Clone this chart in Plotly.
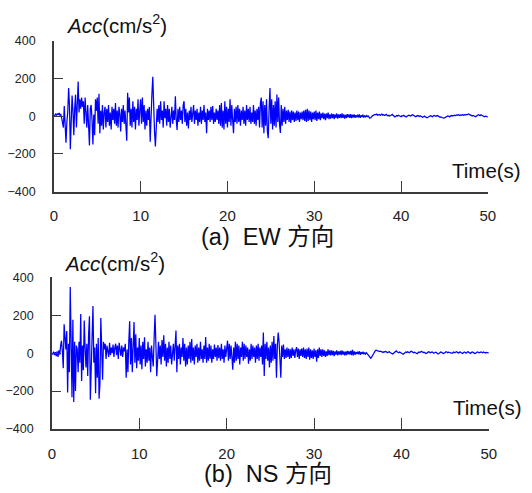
import plotly.graph_objects as go

DT = 0.1  # sampling interval (s)

ew_acc = [
    0, 5, 12, 4, 15, 8, 18, 6, 10, -8,
    -45, -60, 55, -20, -140, -30, 20, 150, 60, -175,
    -40, 110, 30, -100, 40, 115, -60, 80, 185, 20,
    90, 40, 100, 50, 80, -40, 100, 20, -60, 60,
    -30, -155, 40, 60, -20, -150, 10, -100, 90, 30,
    100, -40, 120, -90, 30, -50, 60, -70, 20, 50,
    -60, 40, -30, 60, -50, 20, -70, 50, -20, 40,
    -40, 70, -50, 30, -60, 50, 10, -80, 40, -30,
    60, -40, 30, -90, -130, 125, 20, 100, -50, 40,
    -60, 80, -30, 50, -70, 40, -20, 90, -50, 30,
    90, -40, 100, -30, 60, -70, 30, -50, 40, -20,
    50, -135, 30, 120, 210, -40, -80, -160, -50, 40,
    -30, 60, -40, 80, -20, 30, -60, 80, -10, 40,
    -50, 60, -30, 40, -60, 20, 50, -40, 30, -20,
    107, -20, -73, 40, -30, 50, -20, 30, -40, 60,
    80, -30, 40, -50, 20, -65, 30, -20, 50, -30,
    20, 60, -40, 30, -20, 40, -50, 20, -30, 50,
    -40, 30, -20, 60, -30, 20, -90, 40, -20, 30,
    -30, 50, -20, 55, -40, 20, -30, 40, -20, 30,
    -40, 60, -50, 70, -60, 30, -70, 80, -40, 50,
    -60, 40, -30, 90, -50, 60, -20, -90, 40, -30,
    50, -40, 60, -30, 40, -50, 30, -20, 50, -40,
    30, -50, 60, -20, 40, -30, 50, -40, 20, -30,
    60, -40, 30, -50, 40, -20, 50, -60, 70, 100,
    -60, 80, -90, 60, -50, 90, -80, -116, 40, 150,
    -40, 90, -70, 60, -50, 80, -60, 116, -30, 100,
    -40, -88, 60, -50, 40, -30, 50, -40, 30, -20,
    35, -30, 25, -35, 30, -20, 25, -30, 20, -25,
    30, -20, 25, -30, 20, -15, 25, -20, 30, -25,
    35, -30, 40, -25, 30, -20, 25, -30, 20, -15,
    25, -20, 30, -25, 20, -15, 25, -20, 15, -10,
    20, -15, 15, -20, 15, -10, 20, -15, 10, -12,
    15, -10, 12, -15, 10, -8, 15, -12, 10, -8,
    12, -10, 15, -8, 10, -12, 8, -10, 12, -6,
    10, -8, 12, -10, 8, -6, 10, -8, 6, -5,
    8, -6, 10, -8, 5, -4, 8, -6, 4, -5,
    4, -2, 2, -6, -10, -8, 0, 3, 5, 8,
    10, 8, 12, 6, 8, 10, 5, 8, 12, 6,
    8, 4, 6, 10, 5, 3, 6, 2, 4, 7,
    10, 4, 2, -3, 0, 4, 2, 6, 3, 0,
    -2, 3, 1, 5, 2, -1, -4, 0, 3, 6,
    4, 2, 5, 8, 6, 3, 0, -2, 1, 4,
    2, -1, 3, 0, -3, -5, -2, 1, -3, -6,
    -8, -5, -2, 0, 3, 1, -2, 2, 5, 3,
    0, 2, 4, 1, -2, -5, -3, -6, -8, -10,
    -8, -5, -2, 0, 2, 0, -3, 1, 4, 2,
    5, 3, 6, 4, 7, 5, 8, 6, 4, 7,
    5, 8, 6, 9, 7, 10, 8, 11, 13, 9,
    6, 4, 2, 5, 3, 0, -2, 2, 5, 8,
    6, 3, 8, 5, 2, 0, -2, 1, -1, -3,
    -3,
]

ns_acc = [
    0, -5, 8, -10, 5, -15, 10, -20, 15, -8,
    40, 66, 10, -79, 152, 60, 20, 117, -207, 50,
    -100, 349, 80, -233, 177, -258, 60, -200, 40, 20,
    -100, 60, -50, 207, -147, 40, -90, 173, 30, -75,
    50, -120, 100, 195, -246, -60, 120, 249, -50, 30,
    -212, 50, -130, 80, -240, -160, 186, -40, -140, 60,
    20, 50, -30, 40, 10, -20, 55, -10, 30, 0,
    45, -20, 30, 50, -10, 40, -30, 55, 20, -15,
    40, -20, 30, 10, 50, -130, 20, -100, 60, 169,
    -60, 80, -100, 60, 165, -50, 100, -80, 30, -40,
    80, -60, 40, -85, 60, -30, 84, -70, 20, -50,
    60, -40, 30, -100, 40, -20, -70, 80, 203, 50,
    -122, -40, 60, -30, 40, -60, 70, -20, 95, -40,
    50, -70, 30, -50, 60, -30, 40, -60, 20, 50,
    -40, 60, 120, -100, 40, -30, 50, -60, 30, -20,
    80, -40, 50, -70, 30, -60, 40, -30, 60, -50,
    75, -40, 30, -60, 40, -20, 50, -50, 30, -40,
    60, -30, 20, -50, 40, -30, 85, -50, 30, -40,
    50, -30, 40, -50, 20, -30, 45, -20, 30, -40,
    43, -27, 30, -40, 50, -30, 20, -50, 40, -20,
    30, 66, -40, 50, -30, 40, -20, -87, 30, -50,
    60, -40, 50, -30, 40, -60, 30, -20, 60, -40,
    50, -30, 40, -20, 30, -55, 20, -40, 50, -30,
    40, -20, 30, -50, 40, -30, 50, -40, 30, -20,
    40, -60, 109, -121, 50, -30, 60, -40, 30, -75,
    40, -50, 60, -40, 90, -30, 50, -130, 40, 109,
    60, -60, -130, 40, -20, 45, -30, 20, -25, 30,
    -20, 25, -30, 20, -25, 30, -15, 20, -25, 15,
    32, -20, 25, -30, 20, -15, 25, -20, 30, -25,
    20, -30, 25, -20, 30, -35, 20, -25, 15, -30,
    25, -20, 15, -45, 20, -25, 30, -15, 20, -20,
    20, -15, 15, -20, 10, -15, 20, -10, 15, -12,
    15, -10, 12, -15, 10, -8, 15, -12, 10, -8,
    12, -10, 15, -8, 10, -12, 8, -10, 12, -6,
    10, -8, 12, -10, 18, -12, 10, -8, 6, -5,
    8, -6, 10, -8, 5, -4, 8, -6, 4, -5,
    2, -4, -8, -15, -22, -27, -20, -10, -2, 6,
    12, 16, 14, 10, 12, 8, 11, 9, 6, 4,
    8, 6, 10, 4, 2, 5, 8, 3, 0, -2,
    -4, 0, 6, 10, 12, 8, 4, 2, 6, 3,
    0, -4, -6, -2, 3, 6, 4, 8, 5, 2,
    6, 10, 8, 4, 2, 5, 3, 0, -3, 2,
    6, 4, 8, 10, 6, 3, 5, 2, -2, 0,
    4, 8, 6, 2, 4, 7, 3, 0, 2, 5,
    3, 0, -4, -2, 2, 6, 4, 1, -2, 0,
    4, 8, 6, 2, 5, 3, 0, -3, -1, 3,
    6, 2, 4, 8, 5, 1, 3, 7, 4, 0,
    -2, 2, 6, 4, 0, 3, 8, 5, 2, -1,
    3, 6, 4, 1, -2, 0, 4, 7, 5, 2,
    4, 7, 5, 2, 6, 3, 1, 4, 2, 0,
    2,
]

ew_time = [round(i * DT, 1) for i in range(len(ew_acc))]
ns_time = [round(i * DT, 1) for i in range(len(ns_acc))]

x_ticks = [0, 10, 20, 30, 40, 50]
y_ticks = [-400, -200, 0, 200, 400]
captions = ["(a)  EW 方向", "(b)  NS 方向"]
y_title = "<i>Acc</i>(cm/s<sup>2</sup>)"
x_title = "Time(s)"

W, H = 532, 493
FONT = "Liberation Sans, Arial, Noto Sans CJK SC, sans-serif"
AXC = "#3a3a3a"

fig = go.Figure()
fig.add_trace(go.Scatter(x=ew_time, y=ew_acc, mode="lines",
                         line=dict(color="#0000ff", width=1.25),
                         xaxis="x", yaxis="y", showlegend=False))
fig.add_trace(go.Scatter(x=ns_time, y=ns_acc, mode="lines",
                         line=dict(color="#0000ff", width=1.25),
                         xaxis="x2", yaxis="y2", showlegend=False))

def px_x(p):
    return p / W

def px_y(p):
    return 1 - p / H

xax = dict(range=[0, 50], tickvals=x_ticks, ticks="inside", ticklen=11,
           tickcolor=AXC, tickwidth=1.3, showline=True, linecolor=AXC,
           linewidth=1.5, showgrid=False, zeroline=False,
           tickfont=dict(size=15, color="#222", family=FONT),
           ticklabelstandoff=10)
yax = dict(range=[-400, 400], tickvals=y_ticks, ticks="inside", ticklen=9,
           tickcolor=AXC, tickwidth=1.3, showline=True, linecolor=AXC,
           linewidth=1.5, showgrid=False, zeroline=False,
           tickfont=dict(size=12.5, color="#222", family=FONT),
           ticklabelstandoff=14)

fig.update_layout(
    width=W, height=H, margin=dict(l=0, r=0, t=0, b=0),
    paper_bgcolor="white", plot_bgcolor="white",
    font=dict(family=FONT, color="#111"),
    xaxis=dict(xax, domain=[px_x(51), px_x(495)], anchor="y"),
    yaxis=dict(yax, domain=[px_y(190), px_y(35)], anchor="x"),
    xaxis2=dict(xax, domain=[px_x(49), px_x(496)], anchor="y2"),
    yaxis2=dict(yax, domain=[px_y(434.3), px_y(278.3)], anchor="x2"),
)

annos = [
    dict(text=y_title, x=px_x(61), y=px_y(18), xanchor="left", yanchor="middle", size=20.5),
    dict(text=y_title, x=px_x(59), y=px_y(262), xanchor="left", yanchor="middle", size=20.5),
    dict(text=x_title, x=px_x(531), y=px_y(168), xanchor="right", yanchor="middle", size=20.5),
    dict(text=x_title, x=px_x(532), y=px_y(412), xanchor="right", yanchor="middle", size=20.5),
    dict(text=captions[0], x=px_x(270), y=px_y(237), xanchor="center", yanchor="middle", size=23.5),
    dict(text=captions[1], x=px_x(270), y=px_y(481), xanchor="center", yanchor="middle", size=23.5),
]
for a in annos:
    fig.add_annotation(text=a["text"], x=a["x"], y=a["y"], xref="paper", yref="paper",
                       xanchor=a["xanchor"], yanchor=a["yanchor"], showarrow=False,
                       font=dict(size=a["size"], family=FONT, color="#111"))

fig.write_html("out.html")
